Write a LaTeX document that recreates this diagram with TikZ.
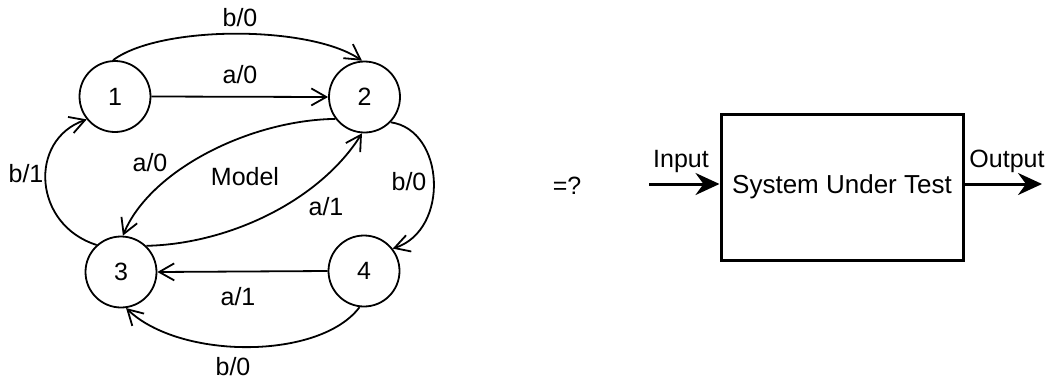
\documentclass[tikz,border=0pt]{standalone}
\usepackage{fontspec}
\setmainfont{Liberation Sans}
\usetikzlibrary{arrows.meta}
\begin{document}
\begin{tikzpicture}[x=1pt,y=-1pt,
  font=\fontsize{25}{29}\selectfont,
  state/.style={circle,draw,line width=1.8pt,minimum size=71pt,inner sep=0pt},
  edge/.style={line width=1.8pt,-{Straight Barb[length=15pt,width=17pt,line width=1.8pt]}},
  lbl/.style={inner sep=0pt},
  bigarrow/.style={line width=3pt,-{Stealth[length=24pt,width=22pt,inset=8pt]}},
  sut/.style={draw,line width=3pt,minimum width=242pt,minimum height=146pt,inner sep=0pt}]
\useasboundingbox (0,0) rectangle (1050,381);
\node[state] (n1) at (115,96.5) {1};
\node[state] (n2) at (364.5,97) {2};
\node[state] (n3) at (121,272) {3};
\node[state] (n4) at (364,271) {4};
% edges
\draw[edge] (n1.east) -- (n2.west);
\draw[edge] (n1.93) .. controls (160,25) and (310,25) .. (n2.94);
\draw[edge] (n2.217) .. controls (250,120) and (150,170) .. (n3.87);
\draw[edge] (n3.46) .. controls (230,244) and (320,200) .. (n2.266);
\draw[edge] (n2.316) .. controls (445,130) and (450,230) .. (n4.38);
\draw[edge] (n4.west) -- (n3.east);
\draw[edge] (n4.263) .. controls (320,360) and (180,360) .. (n3.278);
\draw[edge] (n3.132) .. controls (33,225) and (28,140) .. (n1.219);
% labels
\node[lbl] (l1) at (240,75) {a/0};
\node[lbl] (l2) at (240,18) {b/0};
\node[lbl] (l3) at (150,163) {a/0};
\node[lbl] (l4) at (326,207) {a/1};
\node[lbl] (l5) at (409,182) {b/0};
\node[lbl] (l6) at (238,297) {a/1};
\node[lbl] (l7) at (233,367) {b/0};
\node[lbl] (l8) at (26,174) {b/1};
\node[lbl] (model) at (245,177) {Model};
% right side
\node[lbl] (eq) at (567,186) {=?};
\node[sut] (box) at (842,187) {\fontsize{26}{30}\selectfont System Under Test};
\coordinate (in) at (649,184);
\coordinate (out) at (1042,184);
\draw[bigarrow] (in) -- (in -| box.west);
\draw[bigarrow] (out -| box.east) -- (out);
\node[lbl] (inl) at (681,161) {Input};
\node[lbl] (outl) at (1007,161) {Output};
\end{tikzpicture}
\end{document}
